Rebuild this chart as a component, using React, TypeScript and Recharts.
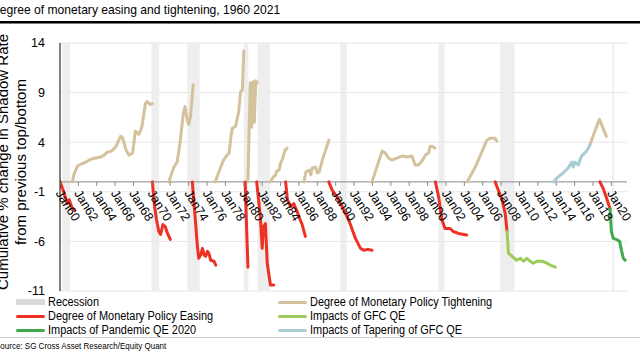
import React from 'react';
import { LineChart, Line, XAxis, YAxis, CartesianGrid, ReferenceArea, ReferenceLine } from 'recharts';

type Pt = [number, number];

// [year, cumulative % change]
const ease60: Pt[] = [[1960.0, 0], [1960.4, -1.0], [1960.8, -2.2], [1961.0, -1.8], [1961.3, -2.6], [1961.6, -2.9]];
const ease70: Pt[] = [[1970.05, 0], [1970.3, -2.5], [1970.5, -3.8], [1970.75, -5.0], [1970.95, -5.3], [1971.2, -4.3], [1971.45, -4.5], [1971.7, -5.2], [1972.0, -5.8]];
const ease74: Pt[] = [[1974.4, 0], [1974.7, -3.5], [1974.95, -6.5], [1975.1, -7.7], [1975.3, -7.4], [1975.5, -6.7], [1975.7, -7.4], [1975.85, -7.5], [1976.05, -7.0], [1976.2, -7.2], [1976.4, -7.9], [1976.75, -8.0], [1976.95, -8.4]];
const ease80: Pt[] = [[1980.15, 0], [1980.3, -4.5], [1980.45, -8.6]];
const ease81: Pt[] = [[1981.4, 0], [1981.8, -3.5], [1982.0, -6.7], [1982.15, -4.5], [1982.35, -4.2], [1982.55, -8.2], [1982.9, -10.4], [1983.25, -10.4]];
const ease84: Pt[] = [[1984.55, 0], [1984.75, -1.8], [1985.1, -2.5], [1985.45, -2.2], [1985.8, -3.0], [1986.0, -3.5], [1986.35, -4.3], [1986.7, -5.5]];
const ease89: Pt[] = [[1989.25, 0], [1989.6, -0.8], [1990.15, -1.5], [1990.7, -2.5], [1991.4, -3.8], [1991.8, -4.8], [1992.15, -5.7], [1992.7, -6.7], [1993.05, -6.9], [1993.5, -6.8], [1993.95, -6.9]];
const ease01: Pt[] = [[2000.85, 0], [2001.2, -1.5], [2001.55, -3.8], [2001.9, -4.7], [2002.45, -4.7], [2002.8, -5.0], [2003.35, -5.2], [2004.25, -5.35]];
const ease07: Pt[] = [[2007.35, 0], [2008.1, -1.8], [2008.45, -3.2], [2008.65, -5.0]];
const ease18: Pt[] = [[2018.75, 0], [2019.1, -0.65], [2019.5, -1.7], [2019.85, -2.7]];

const tight61: Pt[] = [[1961.35, 0], [1961.5, 0.7], [1961.9, 1.6], [1962.3, 1.8], [1962.8, 2.0], [1963.4, 2.3], [1963.9, 2.4], [1964.4, 2.5], [1964.8, 2.7], [1965.15, 3.0], [1965.6, 3.1], [1966.05, 3.5], [1966.6, 4.6], [1966.8, 4.5], [1967.15, 3.3], [1967.5, 2.7], [1967.9, 2.9], [1968.2, 5.1], [1968.6, 4.8], [1968.9, 5.5], [1969.3, 7.9], [1969.5, 8.1], [1969.8, 7.8], [1970.05, 7.9]];
const tight72: Pt[] = [[1971.85, 0], [1972.2, 1.0], [1972.4, 1.5], [1972.75, 2.0], [1973.1, 4.2], [1973.4, 6.8], [1973.6, 7.6], [1973.85, 6.2], [1974.0, 5.8], [1974.2, 6.6], [1974.5, 9.8]];
const tight77: Pt[] = [[1976.9, 0], [1977.2, 0.8], [1977.45, 1.4], [1977.8, 2.2], [1978.1, 2.6], [1978.4, 2.9], [1978.6, 4.5], [1978.75, 5.4], [1979.1, 5.6], [1979.45, 7.1], [1979.65, 9.1], [1979.85, 9.3], [1980.0, 13.2]];
const tight80: Pt[] = [[1980.45, 0], [1980.7, 10.0], [1980.85, 5.5], [1981.0, 10.1], [1981.15, 6.0], [1981.3, 10.2], [1981.45, 10.0]];
const tight83: Pt[] = [[1982.9, 0], [1983.2, 0.5], [1983.4, 0.6], [1983.6, 1.1], [1983.85, 1.2], [1984.0, 1.9], [1984.2, 2.3], [1984.5, 3.2], [1984.7, 3.4]];
const tight86: Pt[] = [[1986.55, 0], [1986.75, 1.0], [1987.1, 1.2], [1987.3, 0.7], [1987.45, 1.4], [1987.8, 1.5], [1988.0, 0.9], [1988.2, 1.0], [1988.55, 2.2], [1988.9, 3.2], [1989.25, 4.2]];
const tight94: Pt[] = [[1993.95, 0], [1995.05, 3.1], [1995.4, 2.9], [1995.75, 2.4], [1996.1, 2.2], [1996.65, 2.4], [1997.2, 2.6], [1997.75, 2.5], [1998.3, 2.6], [1998.65, 1.7], [1999.0, 1.7], [1999.4, 2.1], [1999.75, 2.7], [2000.1, 2.9], [2000.3, 3.6], [2000.5, 3.6], [2000.8, 3.4]];
const tight04: Pt[] = [[2004.3, 0], [2005.2, 1.5], [2006.45, 4.2], [2006.8, 4.4], [2007.35, 4.4], [2007.55, 4.1]];
const tight17: Pt[] = [[2017.65, 3.7], [2018.2, 5.1], [2018.7, 6.3], [2019.1, 5.4], [2019.45, 4.6]];

const gfcQe: Pt[] = [[2008.65, -5.0], [2008.8, -7.2], [2009.2, -7.5], [2009.7, -7.9], [2010.1, -7.7], [2010.45, -8.0], [2010.8, -7.7], [2011.15, -8.0], [2011.5, -8.2], [2011.9, -8.0], [2012.45, -8.0], [2013.0, -8.2], [2013.35, -8.4], [2013.9, -8.6]];
const taperQe: Pt[] = [[2013.7, 0], [2014.2, 0.5], [2014.75, 0.9], [2015.3, 1.4], [2015.7, 2.0], [2015.85, 1.5], [2016.05, 2.0], [2016.4, 1.7], [2016.75, 2.6], [2017.3, 3.1], [2017.65, 3.7]];
const pandemicQe: Pt[] = [[2019.85, -2.7], [2020.0, -5.0], [2020.2, -5.7], [2020.55, -5.8], [2020.9, -6.0], [2021.1, -6.9], [2021.3, -7.7], [2021.5, -7.9]];

const recessions: Pt[] = [[1960.25, 1961.1], [1969.95, 1970.8], [1973.85, 1975.2], [1980.0, 1980.5], [1981.5, 1982.85], [1990.5, 1991.2], [2001.2, 2001.85], [2007.9, 2009.45], [2020.1, 2020.3]];

const easingSegs = [ease60, ease70, ease74, ease80, ease81, ease84, ease89, ease01, ease07, ease18];
const tighteningSegs = [tight61, tight72, tight77, tight80, tight83, tight86, tight94, tight04, tight17];

const yTicks = [-11, -6, -1, 4, 9, 14];
const xTicks = [1960, 1962, 1964, 1966, 1968, 1970, 1972, 1974, 1976, 1978, 1980, 1982, 1984, 1986, 1988, 1990,
  1992, 1994, 1996, 1998, 2000, 2002, 2004, 2006, 2008, 2010, 2012, 2014, 2016, 2018, 2020];

const TAN = '#D4C29C';
const RED = '#EE3124';
const LIGHT_GREEN = '#9CCB5A';
const GREEN = '#3FAA4B';
const LIGHT_BLUE = '#A9CBD2';

const W = 640;
const H = 300;
const MARGIN = { top: 43, right: 13, bottom: 8, left: 20 };
const X_AXIS_H = 1;
const Y_MIN = -11;
const Y_MAX = 14;
const PLOT_H = H - MARGIN.top - MARGIN.bottom - X_AXIS_H;
const ZERO_Y = MARGIN.top + (Y_MAX / (Y_MAX - Y_MIN)) * PLOT_H;

const toPts = (seg: Pt[]) => seg.map(([x, y]) => ({ x, y }));

function XTick(props: any) {
  const { x, payload } = props;
  const yr = String(payload.value % 100).padStart(2, '0');
  const ty = ZERO_Y + 9;
  return (
    <g>
      <line x1={x} x2={x} y1={ZERO_Y} y2={ZERO_Y + 4} stroke="#8a8a8a" />
      <text x={x - 1} y={ty} dy="0.35em" transform={`rotate(58 ${x - 1} ${ty})`} textAnchor="start" fontSize={12.5} fill="#000">
        {`Jan${yr}`}
      </text>
    </g>
  );
}

function segLine(seg: Pt[], color: string, key: string) {
  return (
    <Line key={key} data={toPts(seg)} dataKey="y" type="linear" stroke={color} strokeWidth={3}
      strokeLinejoin="round" strokeLinecap="round" dot={false} activeDot={false} isAnimationActive={false} />
  );
}

function LegendEntry({ left, top, color, label, area }: { left: number; top: number; color: string; label: string; area?: boolean }) {
  return (
    <>
      <div style={{ position: 'absolute', left, top: area ? top - 3 : top - 1.5, width: 29, height: area ? 6 : 3, borderRadius: area ? 0 : 1.5, background: color }} />
      <div style={{ position: 'absolute', left: left + 32, top: top - 7, fontSize: 12, lineHeight: '14px', whiteSpace: 'nowrap', transform: 'scaleX(0.91)', transformOrigin: '0 0' }}>
        {label}
      </div>
    </>
  );
}

export default function App() {
  return (
    <div style={{ position: 'absolute', left: 0, top: 0, width: W, height: 360, overflow: 'hidden', background: '#fff', color: '#000', fontFamily: '"Liberation Sans", Arial, sans-serif' }}>
      <div style={{ position: 'absolute', left: -8.7, top: 2, fontSize: 13.3, lineHeight: '16px', whiteSpace: 'nowrap', transform: 'scaleX(0.91)', transformOrigin: '0 0' }}>
        Degree of monetary easing and tightening, 1960 2021
      </div>
      <div style={{ position: 'absolute', left: 0, top: 21, width: W, height: 2, background: '#000', borderBottom: '1px solid #777' }} />

      <div style={{ position: 'absolute', left: 0, top: 0 }}>
        <LineChart width={W} height={H} margin={MARGIN}>
          <CartesianGrid vertical={false} stroke="#e6e6e6" />
          {recessions.map(([a, b], i) => (
            <ReferenceArea key={'r' + i} x1={a} x2={b} y1={Y_MIN} y2={Y_MAX} fill="#ebebeb" fillOpacity={0.85} stroke="none" />
          ))}
          <XAxis type="number" dataKey="x" domain={[1960, 2021.7]} ticks={xTicks} interval={0} allowDataOverflow
            height={X_AXIS_H} axisLine={false} tickLine={false} tick={(p: any) => <XTick {...p} />} />
          <YAxis domain={[Y_MIN, Y_MAX]} ticks={yTicks} width={40} allowDataOverflow interval={0}
            axisLine={{ stroke: '#000' }} tickLine={false} tickSize={6} tickMargin={9}
            tick={{ fill: '#000', fontSize: 12.5 }} />
          <YAxis yAxisId="r" orientation="right" domain={[0, 1]} ticks={[0, 1]} width={0} mirror tickSize={4}
            tick={false} axisLine={{ stroke: '#9a9a9a' }} tickLine={{ stroke: '#9a9a9a' }} />
          <ReferenceLine y={0} stroke="#8a8a8a" />
          {tighteningSegs.map((s, i) => segLine(s, TAN, 't' + i))}
          {segLine(taperQe, LIGHT_BLUE, 'taper')}
          {easingSegs.map((s, i) => segLine(s, RED, 'e' + i))}
          {segLine(gfcQe, LIGHT_GREEN, 'gfc')}
          {segLine(pandemicQe, GREEN, 'pandemic')}
        </LineChart>
      </div>

      <svg width={40} height={H} style={{ position: 'absolute', left: 0, top: 0, pointerEvents: 'none' }}>
        <text transform="translate(8,162) rotate(-90)" textAnchor="middle" fontSize={15} fill="#000">
          Cumulative % change in Shadow Rate
        </text>
        <text transform="translate(26,162) rotate(-90)" textAnchor="middle" fontSize={15} fill="#000">
          from previous top/bottom
        </text>
      </svg>

      <LegendEntry left={16} top={302} color="#d9d9d9" label="Recession" area />
      <LegendEntry left={16} top={316} color={RED} label="Degree of Monetary Policy Easing" />
      <LegendEntry left={16} top={330} color={GREEN} label="Impacts of Pandemic QE 2020" />
      <LegendEntry left={278} top={302} color={TAN} label="Degree of Monetary Policy Tightening" />
      <LegendEntry left={278} top={316} color={LIGHT_GREEN} label="Impacts of GFC QE" />
      <LegendEntry left={278} top={330} color={LIGHT_BLUE} label="Impacts of Tapering of GFC QE" />

      <div style={{ position: 'absolute', left: 0, top: 337, width: W, height: 1, background: '#cfcfcf' }} />
      <div style={{ position: 'absolute', left: -5.3, top: 341, fontSize: 8.8, lineHeight: '11px', whiteSpace: 'nowrap', transform: 'scaleX(0.91)', transformOrigin: '0 0' }}>
        Source: SG Cross Asset Research/Equity Quant
      </div>
    </div>
  );
}
